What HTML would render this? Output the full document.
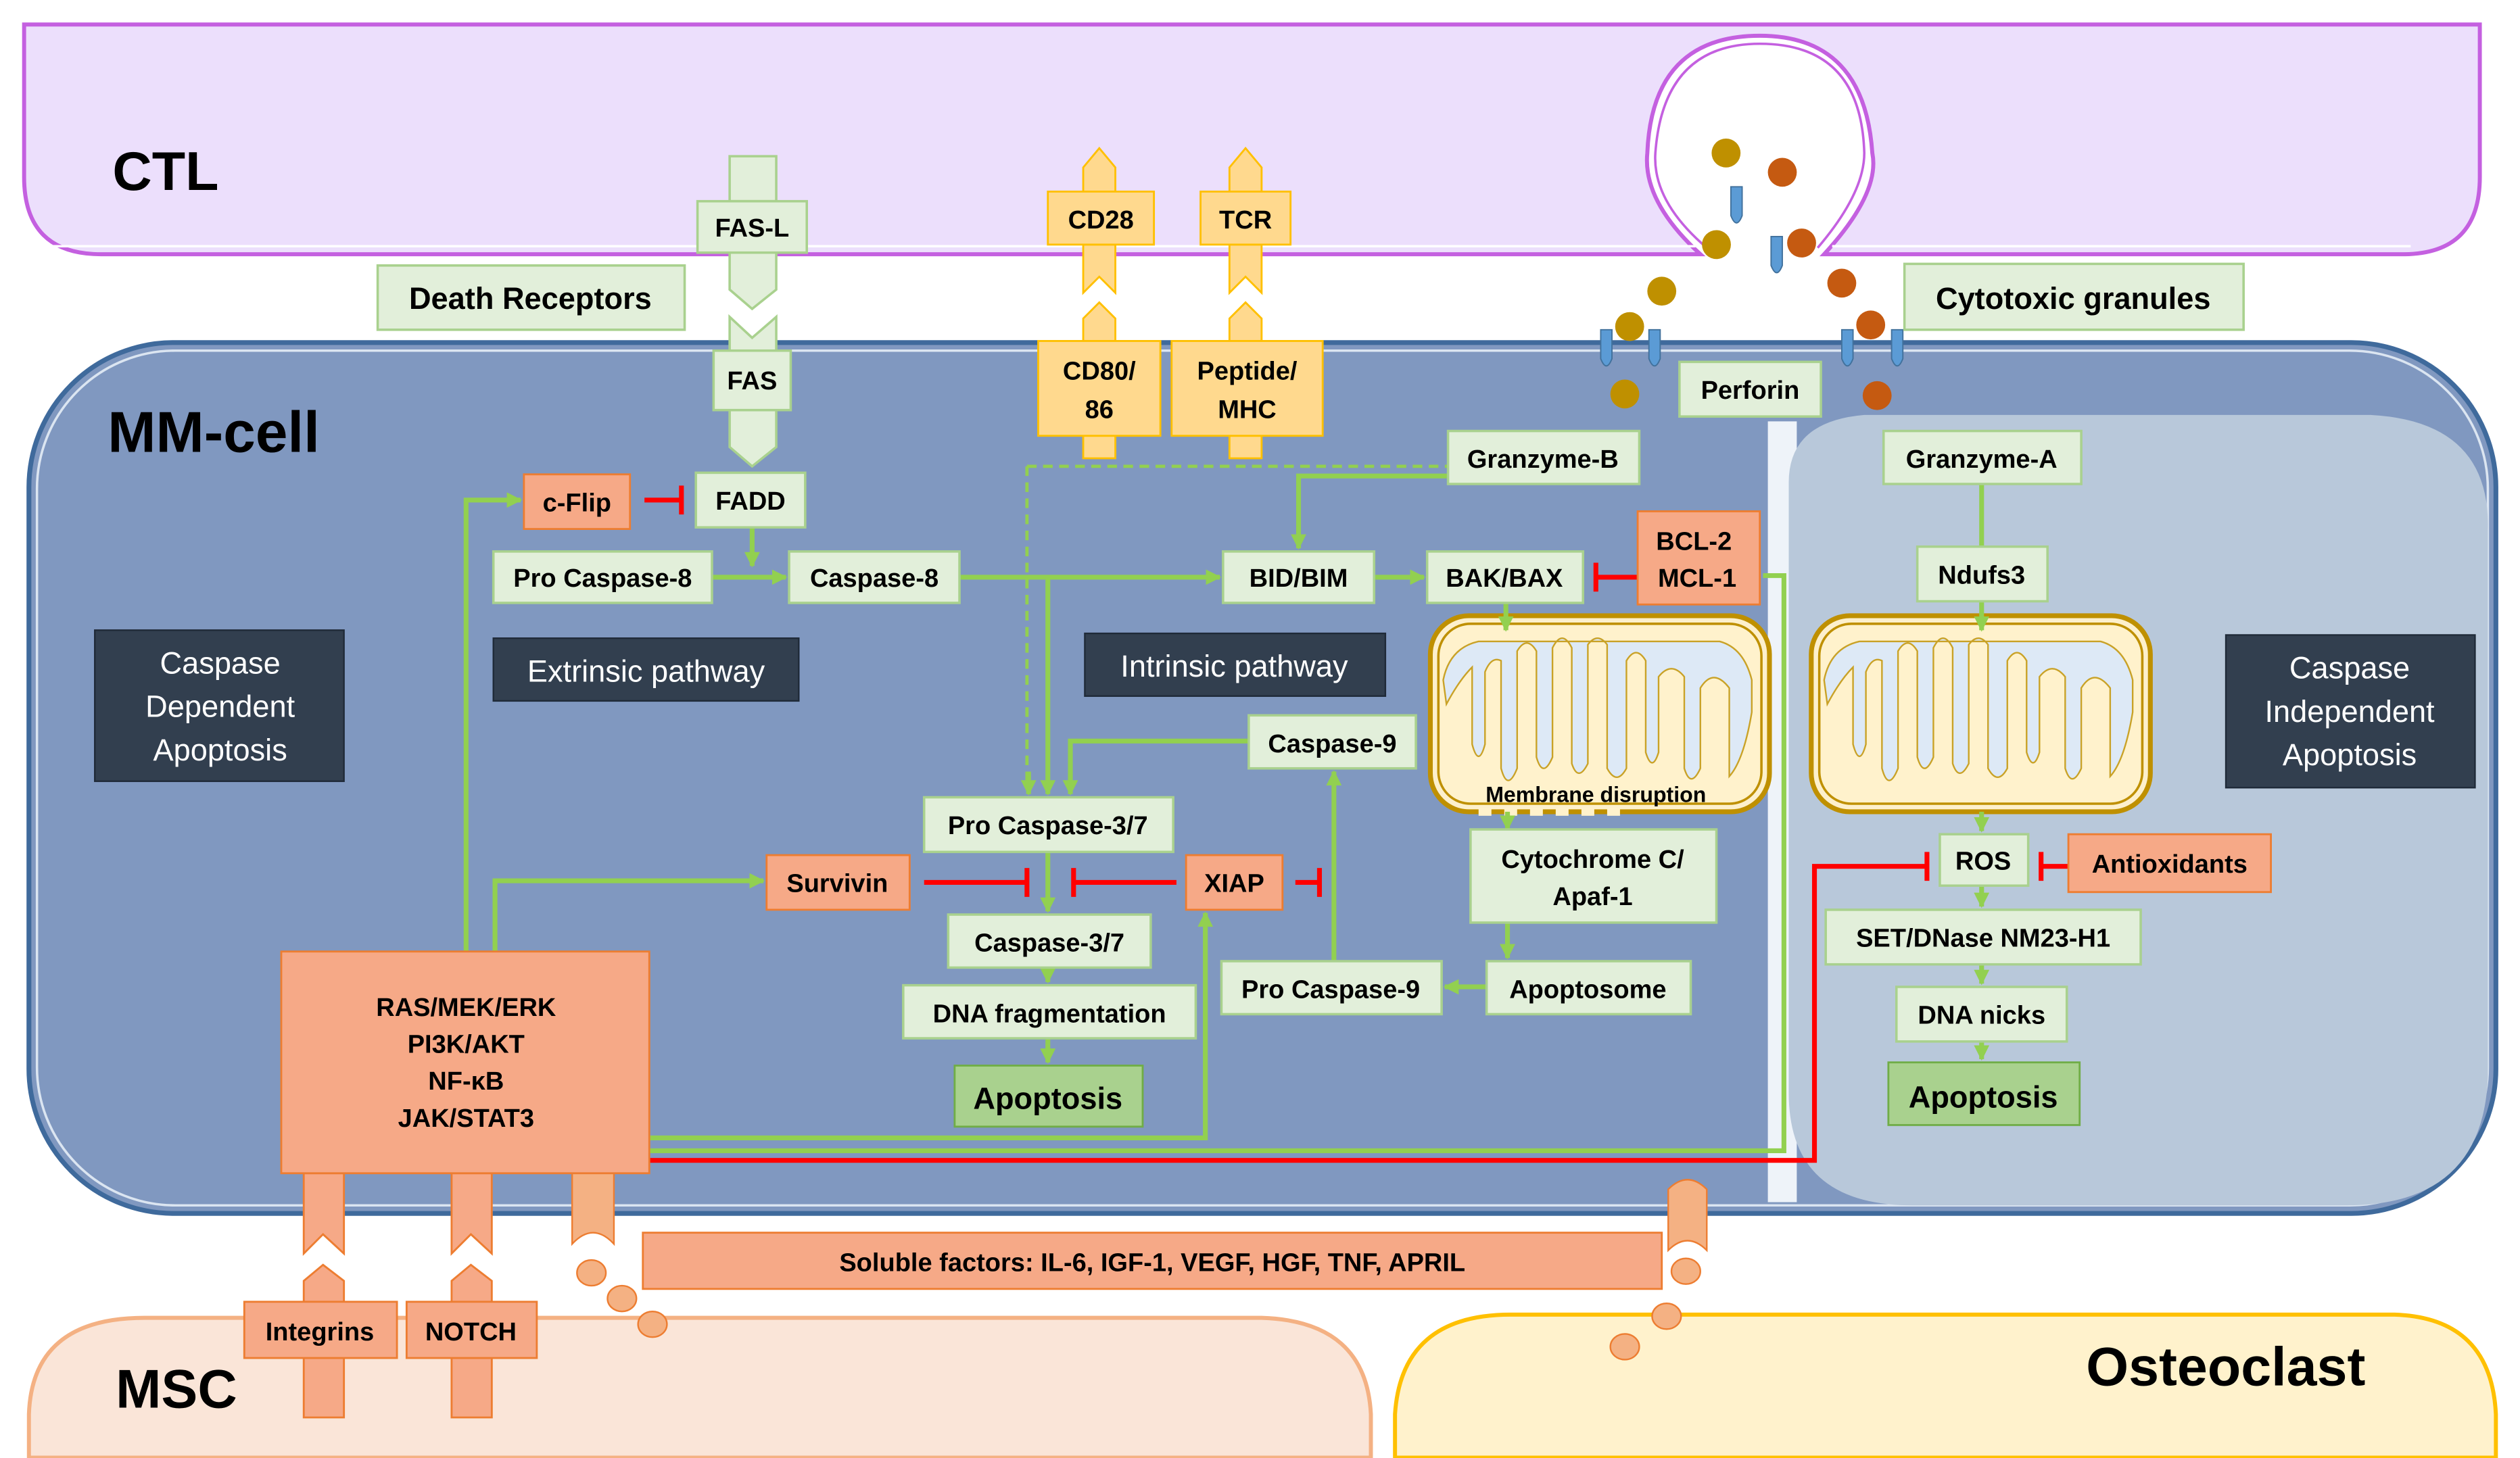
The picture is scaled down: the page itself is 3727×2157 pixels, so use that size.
<!DOCTYPE html>
<html><head><meta charset="utf-8"><style>
html,body{margin:0;padding:0;background:#fff;}
svg{display:block;}
text{font-family:"Liberation Sans",sans-serif;}
.b{font-weight:bold;font-size:16px;fill:#000;}
.gb{fill:#e2efda;stroke:#a9d18e;stroke-width:1.5;}
.sb{fill:#f6a987;stroke:#ed7d31;stroke-width:1.2;}
.yb{fill:#ffd98e;stroke:#ffc000;stroke-width:1.2;}
.db{fill:#323f4f;stroke:#1f2a38;stroke-width:1;}
.gl{stroke:#92d050;stroke-width:3;fill:none;}
.rl{stroke:#ff0000;stroke-width:3;fill:none;}
</style></head><body>
<svg width="3727" height="2157" viewBox="0 0 1568 907" xmlns="http://www.w3.org/2000/svg">
<defs>
<marker id="ga" viewBox="0 0 10 10" refX="9" refY="5" markerWidth="3.2" markerHeight="3.2" orient="auto"><path d="M0,0L10,5L0,10z" fill="#92d050"/></marker>
<g id="mito">
<rect x="0" y="0" width="211" height="122" rx="24" fill="#fdf0cc" stroke="#bf9000" stroke-width="3"/>
<rect x="5" y="5" width="201" height="112" rx="20" fill="#fff2cc" stroke="#bf9000" stroke-width="1.5"/>
<path d="M10,55 Q18,40 26,32 L26,80 Q30,95 34,80 L34,35 Q38,25 44,28 L44,95 Q48,110 54,95 L54,22 Q60,12 66,22 L66,88 Q70,102 76,88 L76,20 Q82,8 88,20 L88,92 Q92,104 98,92 L98,18 Q104,10 110,18 L110,95 Q116,106 122,95 L122,28 Q128,18 134,28 L134,85 Q138,98 142,85 L142,38 Q150,28 158,38 L158,95 Q162,108 168,95 L168,45 Q176,32 186,45 L186,100 Q195,90 200,60 L200,40 Q195,20 180,16 L30,16 Q12,20 8,40 Z" fill="#dde9f6" stroke="#c9a227" stroke-width="1"/>
</g>
</defs>

<!-- CTL -->
<path d="M15,15 H1543 V110 Q1543,158 1495,158 H1135 Q1170,120 1165,95 Q1160,22 1095,22 Q1028,22 1025,95 Q1022,125 1058,158 H63 Q15,158 15,110 Z" fill="#ecdffc" stroke="#c460e0" stroke-width="2.5"/>
<path d="M20,153 H1055 M1140,153 H1500" stroke="#fff" stroke-width="1.5"/>
<path d="M1062,154 Q1028,125 1030,95 Q1035,27 1095,27 Q1158,27 1160,95 Q1160,120 1131,154" fill="none" stroke="#c460e0" stroke-width="1.5"/>
<text x="70" y="118" style="font-size:34px;font-weight:bold">CTL</text>

<!-- MM cell -->
<rect x="18" y="213" width="1535" height="542" rx="90" fill="#8098c0" stroke="#3f6a9c" stroke-width="3"/>
<rect x="23" y="218" width="1525" height="532" rx="86" fill="none" stroke="#dbe5f1" stroke-width="1.5"/>
<path d="M1100,262 L1118,262 L1118,748 L1100,748 Z" fill="#eef3f9"/>
<path d="M1113,300 Q1113,262 1160,258 L1475,258 Q1550,262 1548,330 L1548,670 Q1545,750 1460,750 L1190,750 Q1113,750 1113,680 Z" fill="#b8c8da"/>
<text x="67" y="281" style="font-size:36px;font-weight:bold">MM-cell</text>

<!-- MSC / Osteoclast -->
<path d="M18,907 V880 Q20,820 90,820 H785 Q850,822 853,880 V907 Z" fill="#fae5d8" stroke="#f4b183" stroke-width="2.5"/>
<text x="72" y="876" style="font-size:34px;font-weight:bold">MSC</text>
<path d="M868,907 V880 Q872,818 940,818 H1490 Q1550,820 1553,880 V907 Z" fill="#fff2cc" stroke="#ffc000" stroke-width="2.5"/>
<text x="1298" y="862" style="font-size:34px;font-weight:bold">Osteoclast</text>

<!-- FAS-L / FAS receptor -->
<path d="M454,97 H483 V125 H454 Z M454,157 H483 V180 L468,192 L454,180 Z" class="gb"/>
<path d="M454,197 L468,210 L483,197 V218 H454 Z M454,255 H483 V278 L468,290 L454,278 Z" class="gb"/>
<rect x="434" y="125" width="68" height="32" class="gb"/><text x="468" y="147" text-anchor="middle" class="b">FAS-L</text>
<rect x="444" y="218" width="48" height="37" class="gb"/><text x="468" y="242" text-anchor="middle" class="b">FAS</text>
<rect x="235" y="165" width="191" height="40" class="gb"/><text x="330" y="192" text-anchor="middle" class="b" style="font-size:19px">Death Receptors</text>

<!-- CD28/TCR -->
<path d="M674,119 V104 L684,92 L694,104 V119 Z M674,152 V182 L684,172 L694,182 V152 Z M674,212 V198 L684,188 L694,198 V212 Z M674,271 V285 H694 V271 Z" class="yb"/>
<path d="M765,119 V104 L775,92 L785,104 V119 Z M765,152 V182 L775,172 L785,182 V152 Z M765,212 V198 L775,188 L785,198 V212 Z M765,271 V285 H785 V271 Z" class="yb"/>
<rect x="652" y="119" width="66" height="33" class="yb"/><text x="685" y="142" text-anchor="middle" class="b">CD28</text>
<rect x="747" y="119" width="56" height="33" class="yb"/><text x="775" y="142" text-anchor="middle" class="b">TCR</text>
<rect x="646" y="212" width="76" height="59" class="yb"/><text x="684" y="236" text-anchor="middle" class="b">CD80/</text><text x="684" y="260" text-anchor="middle" class="b">86</text>
<rect x="729" y="212" width="94" height="59" class="yb"/><text x="776" y="236" text-anchor="middle" class="b">Peptide/</text><text x="776" y="260" text-anchor="middle" class="b">MHC</text>

<!-- granules -->
<g fill="#5b9bd5" stroke="#41719c" stroke-width="0.8">
<path d="M1077,116 h7 v18 q-3.5,9 -7,0 z"/><path d="M1102,147 h7 v18 q-3.5,9 -7,0 z"/>
<path d="M996,205 h7 v18 q-3.5,9 -7,0 z"/><path d="M1026,205 h7 v18 q-3.5,9 -7,0 z"/>
<path d="M1146,205 h7 v18 q-3.5,9 -7,0 z"/><path d="M1177,205 h7 v18 q-3.5,9 -7,0 z"/>
</g>
<g fill="#bf9000"><circle cx="1074" cy="95" r="9"/><circle cx="1068" cy="152" r="9"/><circle cx="1034" cy="181" r="9"/><circle cx="1014" cy="203" r="9"/><circle cx="1011" cy="245" r="9"/></g>
<g fill="#c55a11"><circle cx="1109" cy="107" r="9"/><circle cx="1121" cy="151" r="9"/><circle cx="1146" cy="176" r="9"/><circle cx="1164" cy="202" r="9"/><circle cx="1168" cy="246" r="9"/></g>
<rect x="1045" y="225" width="88" height="34" class="gb"/><text x="1089" y="248" text-anchor="middle" class="b">Perforin</text>
<rect x="1185" y="164" width="211" height="41" class="gb"/><text x="1290" y="192" text-anchor="middle" class="b" style="font-size:19px">Cytotoxic granules</text>

<!-- dark labels -->
<rect x="59" y="392" width="155" height="94" class="db"/>
<text x="137" y="419" text-anchor="middle" fill="#fff" style="font-size:19px">Caspase</text><text x="137" y="446" text-anchor="middle" fill="#fff" style="font-size:19px">Dependent</text><text x="137" y="473" text-anchor="middle" fill="#fff" style="font-size:19px">Apoptosis</text>
<rect x="1385" y="395" width="155" height="95" class="db"/>
<text x="1462" y="422" text-anchor="middle" fill="#fff" style="font-size:19px">Caspase</text><text x="1462" y="449" text-anchor="middle" fill="#fff" style="font-size:19px">Independent</text><text x="1462" y="476" text-anchor="middle" fill="#fff" style="font-size:19px">Apoptosis</text>
<rect x="307" y="397" width="190" height="39" class="db"/><text x="402" y="424" text-anchor="middle" fill="#fff" style="font-size:19px">Extrinsic pathway</text>
<rect x="675" y="394" width="187" height="39" class="db"/><text x="768" y="421" text-anchor="middle" fill="#fff" style="font-size:19px">Intrinsic pathway</text>

<!-- mitochondria -->
<use href="#mito" x="890" y="383"/>
<use href="#mito" x="1127" y="383"/>
<path d="M920,505 h8 M936,505 h8 M952,505 h8 M968,505 h8 M984,505 h8 M1000,505 h8" stroke="#fff2cc" stroke-width="5"/>
<text x="993" y="499" text-anchor="middle" class="b" style="font-size:13.5px">Membrane disruption</text>

<!-- connectors -->
<path d="M639,290 H901 M639,290 V488" stroke="#92d050" stroke-width="2" stroke-dasharray="6,4" fill="none"/>
<path d="M640,480 V494" class="gl" marker-end="url(#ga)"/>
<path d="M468,328 V352" class="gl" marker-end="url(#ga)"/>
<path d="M443,359 H489" class="gl" marker-end="url(#ga)"/>
<path d="M597,359 H759" class="gl" marker-end="url(#ga)"/>
<path d="M652,359 V494" class="gl" marker-end="url(#ga)"/>
<path d="M901,296 H808 V341" class="gl" marker-end="url(#ga)"/>
<path d="M855,359 H886" class="gl" marker-end="url(#ga)"/>
<path d="M937,375 V392" class="gl" marker-end="url(#ga)"/>
<path d="M938,505 V516" class="gl" marker-end="url(#ga)"/>
<path d="M938,574 V596" class="gl" marker-end="url(#ga)"/>
<path d="M925,614 H899" class="gl" marker-end="url(#ga)"/>
<path d="M830,598 V480" class="gl" marker-end="url(#ga)"/>
<path d="M777,461 H666 V494" class="gl" marker-end="url(#ga)"/>
<path d="M652,530 V567" class="gl" marker-end="url(#ga)"/>
<path d="M652,602 V611" class="gl" marker-end="url(#ga)"/>
<path d="M652,646 V661" class="gl" marker-end="url(#ga)"/>
<path d="M308,592 V548 H475" class="gl" marker-end="url(#ga)"/>
<path d="M290,592 V311 H324" class="gl" marker-end="url(#ga)"/>
<path d="M404,708 H750 V568" class="gl" marker-end="url(#ga)"/>
<path d="M404,716 H1110 V358 H1097" class="gl"/>
<path d="M1233,301 V340" class="gl"/>
<path d="M1233,374 V392" class="gl" marker-end="url(#ga)"/>
<path d="M1233,505 V517" class="gl" marker-end="url(#ga)"/>
<path d="M1233,551 V564" class="gl" marker-end="url(#ga)"/>
<path d="M1233,600 V612" class="gl" marker-end="url(#ga)"/>
<path d="M1233,648 V659" class="gl" marker-end="url(#ga)"/>

<path d="M404,722 H1129 V539 H1199 M1199,530 V548" class="rl"/>
<path d="M401,311 H424 M424,302 V320" class="rl"/>
<path d="M1019,359 H993 M993,350 V368" class="rl"/>
<path d="M575,549 H639 M639,540 V558" class="rl"/>
<path d="M732,549 H668 M668,540 V558" class="rl"/>
<path d="M806,549 H821 M821,540 V558" class="rl"/>
<path d="M1287,539 H1270 M1270,530 V548" class="rl"/>

<!-- green boxes -->
<rect x="433" y="294" width="68" height="34" class="gb"/><text x="467" y="317" text-anchor="middle" class="b">FADD</text>
<rect x="307" y="343" width="136" height="32" class="gb"/><text x="375" y="365" text-anchor="middle" class="b">Pro Caspase-8</text>
<rect x="491" y="343" width="106" height="32" class="gb"/><text x="544" y="365" text-anchor="middle" class="b">Caspase-8</text>
<rect x="901" y="268" width="119" height="33" class="gb"/><text x="960" y="291" text-anchor="middle" class="b">Granzyme-B</text>
<rect x="761" y="343" width="94" height="32" class="gb"/><text x="808" y="365" text-anchor="middle" class="b">BID/BIM</text>
<rect x="888" y="343" width="97" height="32" class="gb"/><text x="936" y="365" text-anchor="middle" class="b">BAK/BAX</text>
<rect x="777" y="445" width="104" height="33" class="gb"/><text x="829" y="468" text-anchor="middle" class="b">Caspase-9</text>
<rect x="575" y="496" width="155" height="34" class="gb"/><text x="652" y="519" text-anchor="middle" class="b">Pro Caspase-3/7</text>
<rect x="590" y="569" width="126" height="33" class="gb"/><text x="653" y="592" text-anchor="middle" class="b">Caspase-3/7</text>
<rect x="562" y="613" width="182" height="33" class="gb"/><text x="653" y="636" text-anchor="middle" class="b">DNA fragmentation</text>
<rect x="594" y="663" width="117" height="38" fill="#a9d18e" stroke="#70ad47" stroke-width="1.2"/><text x="652" y="690" text-anchor="middle" class="b" style="font-size:19px">Apoptosis</text>
<rect x="915" y="516" width="153" height="58" class="gb"/><text x="991" y="540" text-anchor="middle" class="b">Cytochrome C/</text><text x="991" y="563" text-anchor="middle" class="b">Apaf-1</text>
<rect x="925" y="598" width="127" height="33" class="gb"/><text x="988" y="621" text-anchor="middle" class="b">Apoptosome</text>
<rect x="760" y="598" width="137" height="33" class="gb"/><text x="828" y="621" text-anchor="middle" class="b">Pro Caspase-9</text>
<rect x="1172" y="268" width="123" height="33" class="gb"/><text x="1233" y="291" text-anchor="middle" class="b">Granzyme-A</text>
<rect x="1193" y="340" width="81" height="34" class="gb"/><text x="1233" y="363" text-anchor="middle" class="b">Ndufs3</text>
<rect x="1207" y="519" width="55" height="32" class="gb"/><text x="1234" y="541" text-anchor="middle" class="b">ROS</text>
<rect x="1136" y="566" width="196" height="34" class="gb"/><text x="1234" y="589" text-anchor="middle" class="b">SET/DNase NM23-H1</text>
<rect x="1180" y="614" width="106" height="34" class="gb"/><text x="1233" y="637" text-anchor="middle" class="b">DNA nicks</text>
<rect x="1175" y="661" width="119" height="39" fill="#a9d18e" stroke="#70ad47" stroke-width="1.2"/><text x="1234" y="689" text-anchor="middle" class="b" style="font-size:19px">Apoptosis</text>

<!-- salmon boxes -->
<rect x="326" y="295" width="66" height="34" class="sb"/><text x="359" y="318" text-anchor="middle" class="b">c-Flip</text>
<rect x="1019" y="318" width="76" height="58" class="sb"/><text x="1054" y="342" text-anchor="middle" class="b">BCL-2</text><text x="1056" y="365" text-anchor="middle" class="b">MCL-1</text>
<rect x="477" y="532" width="89" height="34" class="sb"/><text x="521" y="555" text-anchor="middle" class="b">Survivin</text>
<rect x="738" y="532" width="60" height="34" class="sb"/><text x="768" y="555" text-anchor="middle" class="b">XIAP</text>
<rect x="1287" y="519" width="126" height="36" class="sb"/><text x="1350" y="543" text-anchor="middle" class="b">Antioxidants</text>

<!-- RAS & stems -->
<path d="M189,730 H214 V780 L201,768 L189,780 Z M189,810 V797 L201,787 L214,797 V810 Z M189,845 H214 V882 H189 Z" class="sb"/>
<path d="M281,730 H306 V780 L293,768 L281,780 Z M281,810 V797 L293,787 L306,797 V810 Z M281,845 H306 V882 H281 Z" class="sb"/>
<path d="M356,730 H382 V774 Q369,760 356,774 Z" fill="#f4b183" stroke="#ed7d31" stroke-width="1"/>
<rect x="175" y="592" width="229" height="138" class="sb"/>
<text x="290" y="632" text-anchor="middle" class="b">RAS/MEK/ERK</text>
<text x="290" y="655" text-anchor="middle" class="b">PI3K/AKT</text>
<text x="290" y="678" text-anchor="middle" class="b">NF-κB</text>
<text x="290" y="701" text-anchor="middle" class="b">JAK/STAT3</text>
<rect x="152" y="810" width="95" height="35" class="sb"/><text x="199" y="834" text-anchor="middle" class="b">Integrins</text>
<rect x="253" y="810" width="81" height="35" class="sb"/><text x="293" y="834" text-anchor="middle" class="b">NOTCH</text>
<g fill="#f4b183" stroke="#ed7d31" stroke-width="1"><ellipse cx="368" cy="792" rx="9" ry="8"/><ellipse cx="387" cy="808" rx="9" ry="8"/><ellipse cx="406" cy="824" rx="9" ry="8"/>
<path d="M1038,740 Q1050,728 1062,740 V778 Q1050,766 1038,778 Z"/>
<ellipse cx="1049" cy="791" rx="9" ry="8"/><ellipse cx="1037" cy="819" rx="9" ry="8"/><ellipse cx="1011" cy="838" rx="9" ry="8"/></g>
<rect x="400" y="767" width="634" height="35" class="sb"/><text x="717" y="791" text-anchor="middle" class="b">Soluble factors: IL-6, IGF-1, VEGF, HGF, TNF, APRIL</text>
</svg>
</body></html>
